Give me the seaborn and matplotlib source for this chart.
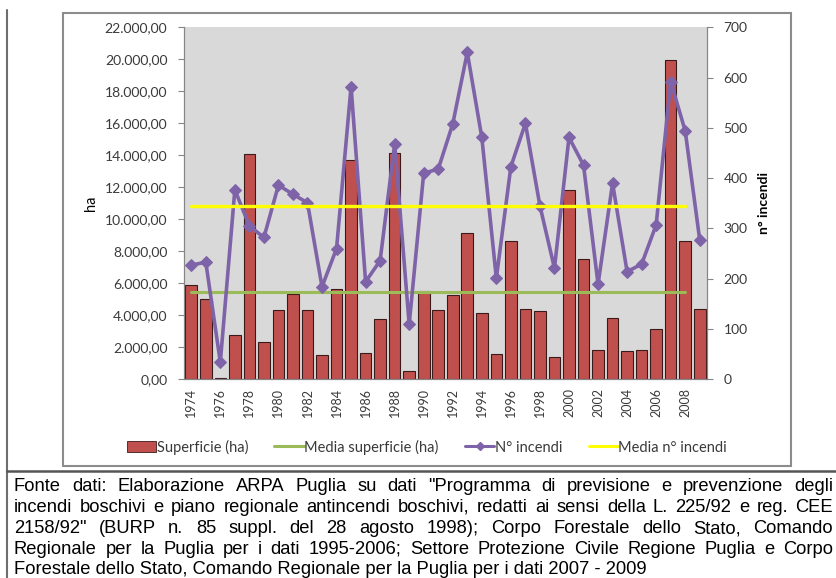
import numpy as np
import pandas as pd
import matplotlib
matplotlib.use("Agg")
import matplotlib.pyplot as plt
import matplotlib.patches as mpatches
from matplotlib.lines import Line2D
from matplotlib.ticker import FuncFormatter
import seaborn as sns

# --- data ---
anni = list(range(1974, 2010))
superficie_ha = [
    5900, 5000, 100, 2800, 14080, 2350, 4330, 5310, 4330, 1520,
    5670, 13700, 1620, 3750, 14120, 540, 5520, 4330, 5270, 9170,
    4120, 1560, 8670, 4370, 4290, 1420, 11830, 7500, 1830, 3810,
    1790, 1830, 3150, 19950, 8670, 4370,
]
n_incendi = [
    227, 233, 34, 377, 305, 282, 386, 368, 351, 184,
    260, 582, 194, 236, 468, 109, 410, 418, 508, 650,
    481, 201, 423, 509, 345, 221, 481, 426, 189, 390,
    214, 229, 307, 592, 494, 277,
]
media_superficie = 5480
media_incendi = 345

fonte = [
    'Fonte dati: Elaborazione ARPA Puglia su dati "Programma di previsione e prevenzione degli',
    'incendi boschivi e piano regionale antincendi boschivi, redatti ai sensi della L. 225/92 e reg. CEE',
    '2158/92" (BURP n. 85 suppl. del 28 agosto 1998); Corpo Forestale dello Stato, Comando',
    'Regionale per la Puglia per i dati 1995-2006; Settore Protezione Civile Regione Puglia e Corpo',
    'Forestale dello Stato, Comando Regionale per la Puglia per i dati 2007 - 2009',
]

C_BAR = "#c0504d"
C_GREEN = "#9bbb59"
C_PURPLE = "#7f63a8"
C_YELLOW = "#ffff00"
C_TXT = "#3a3a3a"

sns.set_style("white")
plt.rcParams["font.family"] = ["Lato", "DejaVu Sans"]

W, H = 837, 578
fig = plt.figure(figsize=(W / 100, H / 100), dpi=100)
fig.patch.set_facecolor("white")

# chart frame + outer lines
fig.add_artist(mpatches.Rectangle((63 / W, 1 - 466 / H), (791 - 63) / W, (466 - 13) / H,
                                  transform=fig.transFigure, fill=False,
                                  edgecolor="#8c8c8c", lw=1.5))
fig.add_artist(Line2D([7 / W, 7 / W], [0, 1 - 10 / H], transform=fig.transFigure,
                      color="#6e6e6e", lw=1.5))
fig.add_artist(Line2D([7 / W, 1], [1 - 471 / H, 1 - 471 / H], transform=fig.transFigure,
                      color="#555555", lw=1.8))

ax = fig.add_axes([184 / W, 1 - 379.3 / H, (707 - 184) / W, (379.3 - 27.3) / H])
ax.set_facecolor("#d9d9d9")

df = pd.DataFrame({"anno": [str(a) for a in anni], "superficie": superficie_ha})
sns.barplot(data=df, x="anno", y="superficie", ax=ax, color=C_BAR, saturation=1,
            edgecolor="#3b1a1a", linewidth=0.8, width=0.8, zorder=2)

idx = np.arange(len(anni))
sns.lineplot(x=idx[:-1], y=np.full(len(anni) - 1, media_superficie), ax=ax,
             color=C_GREEN, lw=2.2, zorder=3)

ax.set_ylim(0, 22000)
ax.set_yticks(np.arange(0, 22001, 2000))
ax.yaxis.set_major_formatter(FuncFormatter(
    lambda v, p: f"{v:,.2f}".replace(",", "X").replace(".", ",").replace("X", ".")))
ax.set_ylabel("ha", fontsize=10.5, color="black", labelpad=5)
ax.set_xlabel("")

ax2 = ax.twinx()
sns.lineplot(x=idx, y=n_incendi, ax=ax2, color=C_PURPLE, lw=2.6, marker="D",
             markersize=6.5, markeredgecolor=C_PURPLE, zorder=4)
sns.lineplot(x=idx[:-1], y=np.full(len(anni) - 1, media_incendi), ax=ax2,
             color=C_YELLOW, lw=2.4, zorder=5)
ax2.set_ylim(0, 700)
ax2.set_yticks(np.arange(0, 701, 100))
ax2.set_ylabel("n° incendi", fontsize=10, fontweight="bold", color="black",
               rotation=90, labelpad=7)

ax.set_xlim(-0.5, len(anni) - 0.5)
ax.set_xticks(idx[::2])
ax.set_xticklabels([str(a) for a in anni[::2]], rotation=90)
ax.set_xticks(np.arange(-0.5, len(anni), 1), minor=True)
ax.tick_params(axis="x", which="major", length=0, pad=6, labelsize=9, labelcolor=C_TXT)
ax.tick_params(axis="x", which="minor", length=4, color="#868686", direction="out")
ax.tick_params(axis="y", length=4, color="#868686", direction="out", labelsize=10,
               labelcolor=C_TXT, pad=8)
ax2.tick_params(axis="y", length=4, color="#868686", direction="out", labelsize=10,
                labelcolor=C_TXT, pad=8)

for a in (ax, ax2):
    a.spines["top"].set_visible(False)
    for s in ("left", "right", "bottom"):
        a.spines[s].set_color("#868686")
        a.spines[s].set_linewidth(0.8)
    a.grid(False)

handles = [
    mpatches.Patch(facecolor=C_BAR, edgecolor="#3b1a1a", lw=0.6, label="Superficie (ha)"),
    Line2D([], [], color=C_GREEN, lw=2.2, label="Media superficie (ha)"),
    Line2D([], [], color=C_PURPLE, lw=2.2, marker="D", markersize=4.5, label="N° incendi"),
    Line2D([], [], color=C_YELLOW, lw=2.2, label="Media n° incendi"),
]
fig.legend(handles=handles, loc="center", bbox_to_anchor=(427 / W, 1 - 447 / H), ncol=4,
           frameon=False, fontsize=10.5, handlelength=2.0, handletextpad=0.05,
           columnspacing=1.8, labelcolor=C_TXT)

# footer source note, justified like the original (kept inside the picture)
renderer = fig.canvas.get_renderer()
x0, x1 = 14, 833
fs = 13.2
baselines = [491, 512, 533, 554, 574.5]
for i, (riga, yb) in enumerate(zip(fonte, baselines)):
    yf = 1 - yb / H
    if i == len(fonte) - 1:
        fig.text(x0 / W, yf, riga, family="Liberation Sans", fontsize=fs,
                 va="baseline", color="black")
        continue
    parole = riga.split(" ")
    testi = [fig.text(0, yf, p, family="Liberation Sans", fontsize=fs, va="baseline",
                      color="black") for p in parole]
    larg = [t.get_window_extent(renderer).width for t in testi]
    gap = max((x1 - x0 - sum(larg)) / (len(parole) - 1), 3.0)
    x = x0
    for t, w in zip(testi, larg):
        t.set_x(x / W)
        x += w + gap

fig.savefig("out.png", dpi=100)
